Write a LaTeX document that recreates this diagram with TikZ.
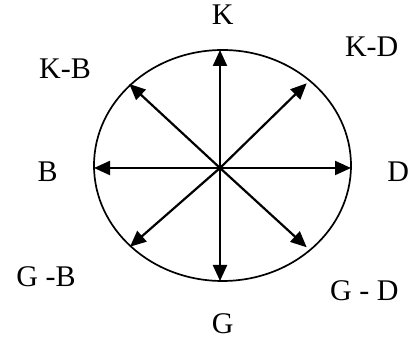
\documentclass[tikz,border=0pt]{standalone}
\usepackage{fontspec}
\setmainfont{Liberation Serif}
\usepackage{tikz}
\usetikzlibrary{arrows.meta}

\begin{document}
\begin{tikzpicture}[x=1pt, y=1pt,
  dir/.style={-{Triangle[length=16pt, width=14pt]}, line width=2.2pt},
  lbl/.style={font=\fontsize{30pt}{33pt}\selectfont, inner sep=0pt}
]
\useasboundingbox (0,0) rectangle (416,342);

\draw[line width=1.7pt] (222.5,176.5) ellipse [x radius=128.5, y radius=115.5];

\coordinate (o)  at (220,174);
\coordinate (tK)  at (220,292);
\coordinate (tG)  at (220,61);
\coordinate (tB)  at (94,174);
\coordinate (tD)  at (351,174);
\coordinate (tKD) at (306.7,258.7);
\coordinate (tKB) at (129.3,258);
\coordinate (tGB) at (130,95.3);
\coordinate (tGD) at (306.7,94.7);

\foreach \t in {tK, tG, tB, tD, tKD, tKB, tGB, tGD}
  \draw[dir] (o) -- (\t);

\node[lbl] (K)  at (222.7,327)   {K};
\node[lbl] (KD) at (371.7,295.3) {K-D};
\node[lbl] (KB) at (65,273.7)    {K-B};
\node[lbl] (B)  at (47.7,170.3)  {B};
\node[lbl] (D)  at (398.3,170.3) {D};
\node[lbl] (GB) at (46,65)       {G -B};
\node[lbl] (GD) at (364.3,51.3)  {G - D};
\node[lbl] (G)  at (222.7,18)    {G};
\end{tikzpicture}
\end{document}
